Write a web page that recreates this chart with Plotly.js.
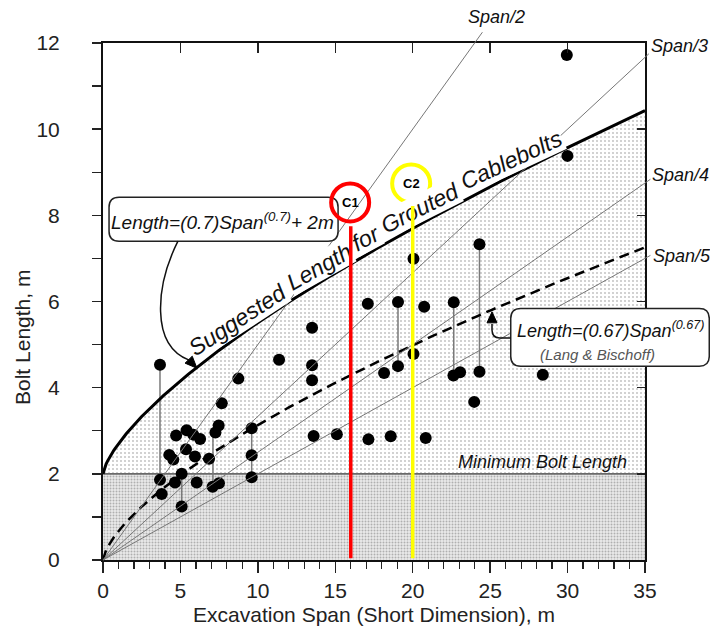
<!DOCTYPE html>
<html><head><meta charset="utf-8">
<script src="https://cdn.plot.ly/plotly-3.0.1.min.js"></script>
<style>html,body{margin:0;padding:0;background:#fff}</style>
</head><body><div id="chart" style="width:710px;height:633px"></div>
<script>
// ---------------- data ----------------
const spanX = [3.68, 3.68, 3.79, 4.28, 4.54, 4.72, 5.40, 5.83, 6.27, 5.36, 5.94, 6.85, 5.08, 4.65, 6.05, 5.08,
  7.47, 7.26, 7.08, 7.49, 7.67, 8.74, 9.60, 9.60, 9.60, 11.37, 13.50, 13.50, 13.50, 13.60, 15.10,
  17.10, 17.14, 18.15, 18.58, 19.05, 19.05, 20.05, 20.05, 20.74, 20.84, 22.65, 22.63, 23.06, 23.97,
  24.31, 24.31, 28.40, 29.95, 29.99];
const boltLength = [4.53, 1.86, 1.53, 2.44, 2.33, 2.89, 3.01, 2.91, 2.81, 2.57, 2.40, 2.35, 2.00, 1.80, 1.80, 1.24,
  3.12, 2.96, 1.70, 1.78, 3.64, 4.21, 3.06, 2.43, 1.92, 4.65, 5.39, 4.52, 4.17, 2.88, 2.92,
  5.95, 2.80, 4.34, 2.87, 5.99, 4.50, 6.99, 4.78, 5.88, 2.83, 5.98, 4.28, 4.36, 3.67,
  7.33, 4.37, 4.30, 11.72, 9.38];
const connX    = [3.68, 5.08, 7.10, 9.60, 19.05, 22.65, 24.31];
const connLow  = [1.86, 1.24, 1.72, 1.92, 4.50, 4.30, 4.37];
const connHigh = [4.53, 2.00, 2.98, 3.06, 6.00, 5.98, 7.33];
const spanDivisors = [2, 3, 4, 5];
const spanLabels = ['Span/2', 'Span/3', 'Span/4', 'Span/5'];
const spanLineEnd = [24.5, 35.25, 35.35, 35.35];
const suggestedCoef = [0.7, 0.7, 2];   // L = 0.7*S^0.7 + 2
const langCoef = [0.67, 0.67];         // L = 0.67*S^0.67
const minBoltLength = 2;
const caseX = [16, 20];
const caseLabels = ['C1', 'C2'];
const xTickVals = [0, 5, 10, 15, 20, 25, 30, 35];
const yTickVals = [0, 2, 4, 6, 8, 10, 12];

// ---------------- geometry ----------------
const W = 710, H = 633, M = {l: 103, r: 65, t: 43, b: 73};
const XR = [0, 35], YR = [0, 12];
const pw = W - M.l - M.r, ph = H - M.t - M.b;
const sx = pw / (XR[1] - XR[0]), sy = ph / (YR[1] - YR[0]);
const PX = v => (v - XR[0]) / (XR[1] - XR[0]);
const PY = v => (v - YR[0]) / (YR[1] - YR[0]);
const FONT = '"Liberation Sans", Arial, sans-serif';

const fSug = s => suggestedCoef[0] * Math.pow(s, suggestedCoef[1]) + suggestedCoef[2];
const fLang = s => langCoef[0] * Math.pow(s, langCoef[1]);
const curveX = [];
for (let i = 0; i <= 350; i++) curveX.push(i / 10);

// connectors
const cx = [], cy = [];
connX.forEach((x, i) => { cx.push(x, x, null); cy.push(connLow[i], connHigh[i], null); });

const traces = [
  {x: curveX, y: curveX.map(fSug), mode: 'lines', fill: 'tozeroy', line: {width: 0, color: 'rgba(0,0,0,0)'},
   fillcolor: '#f6f6f6',
   fillpattern: {shape: '.', size: 4, solidity: 0.16, fgcolor: '#bdbdbd', bgcolor: '#ffffff'}},
  {x: [XR[0], XR[1]], y: [minBoltLength, minBoltLength], mode: 'lines', fill: 'tozeroy',
   line: {width: 1.6, color: '#6a6a6a'},
   fillpattern: {shape: '.', size: 3, solidity: 0.35, fgcolor: '#b0b0b0', bgcolor: '#ebebeb'}},
  {x: cx, y: cy, mode: 'lines', line: {color: '#7a7a7a', width: 1.5}},
  {x: curveX, y: curveX.map(fSug), mode: 'lines', line: {color: '#000', width: 3}},
  {x: curveX, y: curveX.map(fLang), mode: 'lines', line: {color: '#000', width: 2.5, dash: '10px,6px'}},
  {x: spanX, y: boltLength, mode: 'markers', marker: {color: '#000', size: 12}},
  {x: [0], y: [0], xaxis: 'x2', yaxis: 'y', mode: 'markers', marker: {opacity: 0}},
  {x: [0], y: [0], xaxis: 'x', yaxis: 'y2', mode: 'markers', marker: {opacity: 0}}
];

// ---------------- decorations ----------------
const shapes = [];
const annotations = [];
const ann = o => annotations.push(Object.assign({xref: 'paper', yref: 'paper', showarrow: false,
  xanchor: 'center', yanchor: 'middle'}, o));

spanDivisors.forEach((d, i) => {
  const xe = spanLineEnd[i];
  shapes.push({type: 'line', xref: 'paper', yref: 'paper', x0: PX(0), y0: PY(0), x1: PX(xe), y1: PY(xe / d),
    line: {color: '#777', width: 1}});
});

function roundRect(x0, y0, x1, y1, r) {
  const a = PX(x0), b = PX(x1), c = PY(y0), d = PY(y1), rx = r / pw, ry = r / ph;
  return `M ${a + rx},${c} L ${b - rx},${c} Q ${b},${c} ${b},${c + ry} L ${b},${d - ry} Q ${b},${d} ${b - rx},${d} ` +
         `L ${a + rx},${d} Q ${a},${d} ${a},${d - ry} L ${a},${c + ry} Q ${a},${c} ${a + rx},${c} Z`;
}
function arrowHead(tx, ty, fx, fy, len, hw) {
  let ux = (tx - fx) * sx, uy = (ty - fy) * sy;
  const n = Math.hypot(ux, uy); ux /= n; uy /= n;
  const bx = -ux * len, by = -uy * len, qx = -uy * hw, qy = ux * hw;
  const p1 = [tx + (bx + qx) / sx, ty + (by + qy) / sy];
  const p2 = [tx + (bx - qx) / sx, ty + (by - qy) / sy];
  return `M ${tx},${ty} L ${p1[0]},${p1[1]} L ${p2[0]},${p2[1]} Z`;
}

// box 1 : suggested formula
shapes.push({type: 'path', xref: 'paper', yref: 'paper', path: roundRect(0.39, 7.40, 15.18, 8.42, 10),
  fillcolor: '#fff', line: {color: '#222', width: 1.5}});
shapes.push({type: 'path', xref: 'x', yref: 'y', path: 'M 4.84,7.40 C 3.42,6.38 3.03,4.99 5.56,4.64',
  line: {color: '#111', width: 1.5}});
shapes.push({type: 'path', xref: 'x', yref: 'y', path: arrowHead(6.07, 4.45, 5.45, 4.68, 12, 5),
  fillcolor: '#000', line: {color: '#000', width: 1}});
ann({x: PX(7.72), y: PY(7.88), text: '<i>Length=(0.7)Span<sup>(0.7)</sup>+ 2m</i>',
  font: {family: FONT, size: 19, color: '#111'}});

// box 2 : Lang & Bischoff
shapes.push({type: 'path', xref: 'paper', yref: 'paper', path: roundRect(26.33, 4.50, 39.15, 5.84, 10),
  fillcolor: '#fff', line: {color: '#222', width: 1.5}});
shapes.push({type: 'path', xref: 'x', yref: 'y', path: 'M 26.33,5.153 L 25.64,5.153 Q 25.12,5.153 25.12,5.34 L 25.12,5.48',
  line: {color: '#111', width: 1.5}});
shapes.push({type: 'path', xref: 'x', yref: 'y', path: arrowHead(25.12, 5.76, 25.12, 5.40, 11, 5),
  fillcolor: '#000', line: {color: '#000', width: 1}});
ann({x: PX(26.62), y: PY(5.36), xanchor: 'left', text: '<i>Length=(0.67)Span<sup>(0.67)</sup></i>',
  font: {family: FONT, size: 18, color: '#111'}});
ann({x: PX(31.96), y: PY(4.78), text: '<i>(Lang &amp; Bischoff)</i>', font: {family: FONT, size: 15, color: '#555'}});

// span labels
const spanLabelPos = [[25.44, 12.6], [37.2, 11.93], [37.32, 8.94], [37.39, 7.06]];
spanLabels.forEach((t, i) => ann({x: PX(spanLabelPos[i][0]), y: PY(spanLabelPos[i][1]),
  text: '<i>' + t + '</i>', font: {family: FONT, size: 18, color: '#111'}}));

ann({x: PX(28.41), y: PY(2.28), text: '<i>Minimum Bolt Length</i>', font: {family: FONT, size: 18, color: '#111'}});

// y-axis title
ann({x: (22 - M.l) / pw, y: (M.t + ph - 338) / ph, textangle: -90, text: 'Bolt Length, m',
  font: {family: FONT, size: 21, color: '#222'}});

// curved label along the suggested-length curve
(function () {
  const fs = 23;
  const ctx = document.createElement('canvas').getContext('2d');
  ctx.font = `italic ${fs}px ${FONT}`;
  const words = 'Suggested Length for Grouted Cablebolts'.split(' ');
  const spaceW = ctx.measureText(' ').width;
  const tbl = []; let s = 0, px0 = null;
  for (let x = 6.3; x <= 35; x += 0.01) {
    const p = [x * sx, -fSug(x) * sy];
    if (px0) s += Math.hypot(p[0] - px0[0], p[1] - px0[1]);
    tbl.push([s, x]); px0 = p;
  }
  const atS = t => { for (const r of tbl) if (r[0] >= t) return r[1]; return 35; };
  let cur = 0; const d = 14;
  words.forEach(w => {
    const ww = ctx.measureText(w).width;
    const x = atS(cur + ww / 2);
    const slope = suggestedCoef[0] * suggestedCoef[1] * Math.pow(x, suggestedCoef[1] - 1) * sy / sx;
    const th = Math.atan(slope) - 2 * Math.PI / 180;
    ann({x: PX(x), y: PY(fSug(x)), text: '<i>' + w + '</i>', textangle: -th * 180 / Math.PI,
      xshift: -d * Math.sin(th), yshift: d * Math.cos(th), bgcolor: '#fff', borderpad: 0,
      font: {family: FONT, size: fs, color: '#111'}});
    cur += ww + spaceW;
  });
})();

// case lines (drawn as arrows so they sit above the labels) and circles
const caseTop = [7.78, 8.25], caseCY = [8.30, 8.74], caseDX = [-0.04, -0.1], caseColor = ['#ff0000', '#ffff00'];
caseX.forEach((x, i) => {
  annotations.push({xref: 'x', yref: 'y', axref: 'x', ayref: 'y', x: x, y: 0.04, ax: x, ay: caseTop[i],
    text: '', showarrow: true, arrowhead: 0, arrowwidth: 3.5, arrowcolor: caseColor[i], standoff: 0, startstandoff: 0});
  shapes.push({type: 'circle', xref: 'x', yref: 'y', xsizemode: 'pixel', ysizemode: 'pixel',
    xanchor: x + caseDX[i], yanchor: caseCY[i], x0: -19, x1: 19, y0: -19, y1: 19,
    line: {color: caseColor[i], width: 4}});
  ann({x: PX(x + caseDX[i]), y: PY(caseCY[i]), text: '<b>' + caseLabels[i] + '</b>',
    font: {family: FONT, size: 13, color: '#000'}});
});

const tickFont = {family: FONT, size: 21, color: '#222'};
const layout = {
  width: W, height: H, margin: M, paper_bgcolor: '#fff', plot_bgcolor: '#fff', showlegend: false,
  hovermode: false,
  xaxis: {range: XR, showgrid: false, zeroline: false, showline: true, linecolor: '#111', linewidth: 2, mirror: true,
    ticks: 'outside', ticklen: 11, tickwidth: 1.5, tickcolor: '#222', tickvals: xTickVals, tickfont: tickFont,
    minor: {dtick: 1, ticks: 'outside', ticklen: 7, tickwidth: 1.2, tickcolor: '#222', showgrid: false},
    title: {text: 'Excavation Span (Short Dimension), m', font: {family: FONT, size: 21, color: '#222'}, standoff: 6}},
  yaxis: {range: YR, showgrid: false, zeroline: false, showline: true, linecolor: '#111', linewidth: 2, mirror: true,
    ticks: 'outside', ticklen: 9, tickwidth: 1.5, tickcolor: '#222', tickvals: yTickVals, tickfont: tickFont,
    ticklabelstandoff: 28,
    minor: {dtick: 1, ticks: 'outside', ticklen: 9, tickwidth: 1.2, tickcolor: '#222', showgrid: false}},
  xaxis2: {range: XR, overlaying: 'x', side: 'top', anchor: 'y', showgrid: false, zeroline: false, showline: false,
    ticks: 'inside', ticklen: 10, tickwidth: 1.5, tickcolor: '#222', dtick: 5, showticklabels: false},
  yaxis2: {range: YR, overlaying: 'y', side: 'right', anchor: 'x', showgrid: false, zeroline: false, showline: false,
    ticks: 'inside', ticklen: 8, tickwidth: 1.5, tickcolor: '#222', dtick: 2, showticklabels: false},
  shapes: shapes, annotations: annotations
};
Plotly.newPlot('chart', traces, layout, {staticPlot: true, displayModeBar: false});
</script>
</body></html>
